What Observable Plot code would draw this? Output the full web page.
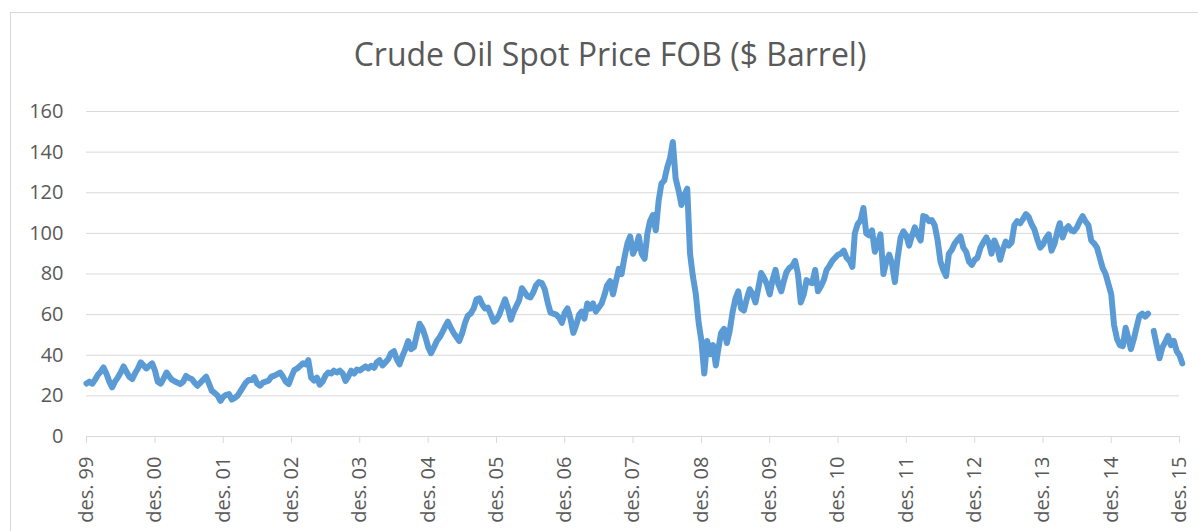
<!DOCTYPE html>
<html>
<head>
<meta charset="utf-8">
<script src="https://cdn.jsdelivr.net/npm/d3@7"></script>
<script src="https://cdn.jsdelivr.net/npm/@observablehq/plot@0.6"></script>
<style>
  html, body { margin: 0; padding: 0; background: #fff; overflow: hidden; }
  #wrap { position: relative; width: 1198px; height: 531px; overflow: hidden; }
  #frame { position: absolute; left: 10px; top: 12px; width: 1300px; height: 700px;
           border-left: 1px solid #d9d9d9; border-top: 1px solid #d9d9d9; }
  #title { position: absolute; left: 0; top: 38px; width: 1220px; text-align: center;
           font-family: "Open Sans", sans-serif; font-size: 32px; line-height: 32px; color: #595959; }
  #chart { position: absolute; left: 0; top: 95px; }
</style>
</head>
<body>
<div id="wrap">
  <div id="frame"></div>
  <div id="title">Crude Oil Spot Price FOB ($ Barrel)</div>
  <div id="chart"></div>
</div>
<script>
// Semi-monthly readings (1st and 16th of each month), each block runs Dec (previous year) .. Nov
const y2000 = [26.1, 27, 26, 28, 30.5, 32, 34, 31, 27, 24.2, 27, 29, 31.5, 34.5, 32, 29.5, 28.3, 31, 33.5, 36.5, 35, 33.5, 34.8, 36];
const y2001 = [32.5, 27, 26, 28.5, 31.5, 29.5, 28, 27.2, 26.5, 25.8, 27, 29.8, 28.8, 28.3, 26.5, 25, 26.5, 28, 29.4, 26, 22.5, 21.5, 20.1, 17.5];
const y2002 = [19.5, 20.5, 20.9, 18.2, 19, 20.1, 22, 24.2, 26.5, 27.8, 27.8, 29.2, 26, 25, 26.5, 27, 27.5, 29.5, 30, 30.7, 31.5, 29.5, 27, 25.8];
const y2003 = [29.5, 32.7, 33.5, 34.8, 36, 35.5, 37.6, 29, 27.5, 29, 25.5, 27, 30, 31.5, 31, 32.4, 31.5, 32.4, 31, 27.4, 29.5, 32.4, 31, 33];
const y2004 = [32.5, 33.5, 34.5, 33.5, 34.8, 33.8, 36.5, 37.6, 35, 36.5, 38, 41, 42, 38, 35.5, 39.5, 43, 47, 43, 44, 50, 55.5, 53, 49];
const y2005 = [44, 41, 44, 47, 49, 51.5, 54, 56.5, 53.5, 51, 49, 47, 51, 56, 59.5, 60.5, 63, 67.5, 68, 65, 63, 63.5, 60, 56.5];
const y2006 = [57.5, 60, 64, 67.5, 63, 57.5, 61, 64, 67, 73, 71, 69, 68.5, 71, 74.5, 76, 75.5, 72.5, 66, 61, 60.5, 60, 58.5, 56];
const y2007 = [61, 63, 58, 51, 55, 60, 61.5, 58, 65.5, 63, 65.5, 61.5, 63.5, 65.5, 69.5, 74.5, 76.5, 70, 76.5, 82.5, 80, 88, 95, 98.5];
const y2008 = [90, 93, 98.5, 90, 87.5, 100, 106, 109, 101.5, 116, 124.5, 126, 132.5, 137, 145, 127, 121, 114, 119, 122, 90, 79, 70, 56];
const y2009 = [47, 31, 47, 40.5, 45, 35, 43, 51, 53, 46, 52, 61, 68, 71.5, 63, 62, 68, 72.5, 70, 66, 73, 80.5, 78, 75];
const y2010 = [70, 77, 82, 75, 71.5, 77, 81, 83, 84, 86.5, 80, 66, 70, 77, 76, 75.5, 82, 71.5, 74, 77, 82, 84, 86.5, 88];
const y2011 = [89.5, 90, 91.5, 88, 86.5, 83.5, 100, 104.5, 106.5, 112.5, 100, 99, 101.5, 91, 95, 99.5, 80, 86, 89.5, 85, 76, 88, 98, 101];
const y2012 = [99, 94, 99, 103, 99, 96.5, 108.5, 108, 106, 106.5, 104, 97, 86, 82, 79, 90, 92, 95, 97, 98.5, 93, 91, 86, 84.5];
const y2013 = [87, 88, 93, 95.5, 98, 95, 90, 96.5, 93, 87, 92, 96, 94, 95.5, 104, 106, 105, 107, 109.5, 108, 104.5, 102, 97, 93];
const y2014 = [94.5, 97.5, 99.5, 91.5, 95, 101, 105, 98, 102, 103.5, 101.5, 101, 103, 106, 108.5, 106, 104, 96.5, 95, 93, 88, 83, 80, 75];
const y2015 = [70, 55, 48, 45, 44.5, 53.5, 49, 43, 48, 54, 59.5, 60.5, 59, 60.5, null, 52, 45, 38.5, 44, 46.5, 49.5, 45, 47, 42, 40, 36];

const blocks = [y2000, y2001, y2002, y2003, y2004, y2005, y2006, y2007, y2008, y2009, y2010, y2011, y2012, y2013, y2014, y2015];
const tickYears = [1999, 2000, 2001, 2002, 2003, 2004, 2005, 2006, 2007, 2008, 2009, 2010, 2011, 2012, 2013, 2014, 2015];
const yTicks = [0, 20, 40, 60, 80, 100, 120, 140, 160];

const data = [];
blocks.forEach((vals, k) => {
  vals.forEach((v, i) => {
    const date = new Date(Date.UTC(1999, 11 + 12 * k + Math.floor(i / 2), i % 2 ? 16 : 1));
    data.push({date, price: v});
  });
});

const xTicks = tickYears.map(y => new Date(Date.UTC(y, 11, 1)));

const chart = Plot.plot({
  width: 1198,
  height: 436,
  marginTop: 16,
  marginBottom: 95,
  marginLeft: 86,
  marginRight: 19,
  style: {fontFamily: "'Open Sans', sans-serif", fontSize: "20px", color: "#595959", background: "transparent", overflow: "visible"},
  x: {type: "utc", domain: [xTicks[0], xTicks[xTicks.length - 1]], label: null},
  y: {domain: [0, 160], label: null},
  marks: [
    Plot.gridY(yTicks, {stroke: "#d9d9d9", strokeOpacity: 1, strokeWidth: 1}),
    Plot.axisY(yTicks, {tickSize: 0, tickPadding: 23, fill: "#595959", label: null}),
    Plot.axisX(xTicks, {tickSize: 7, stroke: "#d9d9d9", strokeOpacity: 1, fill: "#595959", tickRotate: -90, tickPadding: 13,
      tickFormat: d => "des. " + String(d.getUTCFullYear() % 100).padStart(2, "0"), label: null}),
    Plot.line(data, {x: "date", y: "price", stroke: "#5B9BD5", strokeWidth: 6, strokeLinejoin: "round", strokeLinecap: "round"})
  ]
});
document.getElementById("chart").appendChild(chart);
</script>
</body>
</html>
